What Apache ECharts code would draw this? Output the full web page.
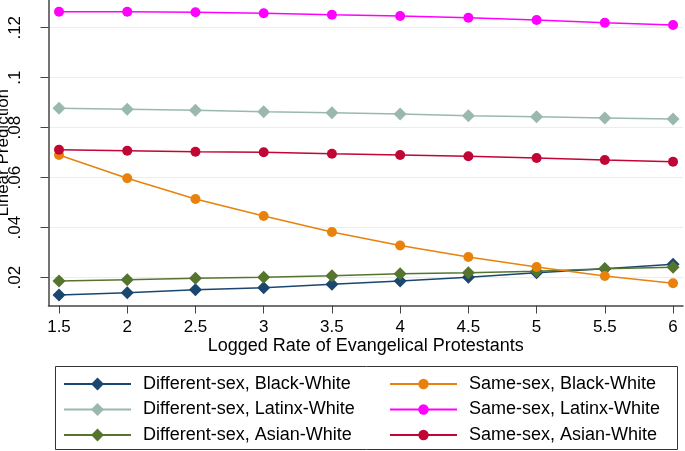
<!DOCTYPE html>
<html>
<head>
<meta charset="utf-8">
<script src="https://cdn.jsdelivr.net/npm/echarts@6/dist/echarts.min.js"></script>
<style>
  html, body { margin: 0; padding: 0; background: #fff; }
  #main { width: 685px; height: 451px; }
</style>
</head>
<body>
<div id="main"></div>
<script>
// 数据
const xVals = [1.5, 2, 2.5, 3, 3.5, 4, 4.5, 5, 5.5, 6];
const yTicks = [0.02, 0.04, 0.06, 0.08, 0.1, 0.12];
const diffBlack  = [0.0131, 0.0140, 0.0152, 0.0160, 0.0174, 0.0187, 0.0202, 0.0220, 0.0236, 0.0254];
const diffLatinx = [0.0878, 0.0874, 0.0870, 0.0864, 0.0860, 0.0855, 0.0848, 0.0844, 0.0839, 0.0835];
const diffAsian  = [0.0187, 0.0192, 0.0198, 0.0202, 0.0208, 0.0216, 0.0220, 0.0226, 0.0236, 0.0242];
const sameBlack  = [0.0691, 0.0598, 0.0515, 0.0447, 0.0383, 0.0329, 0.0283, 0.0243, 0.0207, 0.0178];
const sameLatinx = [0.1264, 0.1264, 0.1262, 0.1258, 0.1252, 0.1247, 0.1240, 0.1231, 0.1220, 0.1211];
const sameAsian  = [0.0712, 0.0708, 0.0704, 0.0702, 0.0696, 0.0691, 0.0686, 0.0679, 0.0671, 0.0664];

const font = "'Liberation Sans', Arial, sans-serif";
const axisColor = "#444";

const makeSeries = (name, arr, color, symbol, size) => ({
  type: "line",
  name: name,
  data: xVals.map((x, i) => [x, arr[i]]),
  symbol: symbol,
  symbolSize: size,
  animation: false,
  lineStyle: { color: color, width: 1.6 },
  itemStyle: { color: color },
});

const legendText = { fontSize: 18, color: "#000", lineHeight: 18, padding: [0, 0, 0, 7], fontFamily: font };

let myChart = echarts.init(document.getElementById("main"));
let option = {
  backgroundColor: "#fff",
  textStyle: { fontFamily: font },
  grid: {
    left: 48.5,
    right: 2,
    top: 0,
    bottom: 145.5,
    outerBoundsMode: "none",
  },
  xAxis: {
    type: "value",
    min: 1.423,
    max: 6.073,
    name: "Logged Rate of Evangelical Protestants",
    nameLocation: "middle",
    nameGap: 32,
    nameMoveOverlap: false,
    nameTextStyle: { color: "#000", fontSize: 18, fontFamily: font },
    axisLine: { show: true, lineStyle: { color: axisColor, width: 1.5 } },
    axisTick: { show: true, length: 8, customValues: xVals, lineStyle: { color: axisColor } },
    axisLabel: {
      customValues: xVals,
      color: "#000",
      fontSize: 17,
      margin: 13,
      fontFamily: font,
    },
    splitLine: { show: false },
  },
  yAxis: {
    type: "value",
    min: 0.00888,
    max: 0.1311,
    name: "Linear Prediction",
    nameLocation: "middle",
    nameGap: 37,
    nameMoveOverlap: false,
    nameTextStyle: { color: "#000", fontSize: 17, fontFamily: font },
    axisLine: { show: true, lineStyle: { color: axisColor, width: 1.5 } },
    axisTick: { show: true, length: 8, customValues: yTicks, lineStyle: { color: axisColor } },
    axisLabel: {
      customValues: yTicks,
      rotate: 90,
      color: "#000",
      fontSize: 17,
      margin: 25,
      fontFamily: font,
      formatter: (v) => String(+v.toFixed(2)).replace(/^0/, ""),
    },
    splitLine: { show: true, lineStyle: { color: "#e6eef0", width: 1.2 } },
  },
  legend: [
    {
      orient: "vertical",
      left: 63,
      top: 375,
      height: 76,
      padding: 0,
      itemWidth: 67,
      itemHeight: 16,
      itemGap: 7.5,
      textStyle: legendText,
      data: ["Different-sex, Black-White", "Different-sex, Latinx-White", "Different-sex, Asian-White"],
    },
    {
      orient: "vertical",
      left: 389,
      top: 375,
      height: 76,
      padding: 0,
      itemWidth: 67,
      itemHeight: 13,
      itemGap: 7.5,
      textStyle: legendText,
      data: ["Same-sex, Black-White", "Same-sex, Latinx-White", "Same-sex, Asian-White"],
    },
  ],
  // 图例外框
  graphic: [
    {
      type: "rect",
      shape: { x: 55.5, y: 366.5, width: 622, height: 83 },
      style: { fill: "none", stroke: "#333", lineWidth: 1 },
      silent: true,
    },
  ],
  series: [
    makeSeries("Different-sex, Black-White", diffBlack, "#1a476f", "diamond", 13),
    makeSeries("Different-sex, Latinx-White", diffLatinx, "#9ab8b0", "diamond", 13),
    makeSeries("Different-sex, Asian-White", diffAsian, "#55752f", "diamond", 13),
    makeSeries("Same-sex, Black-White", sameBlack, "#e8820c", "circle", 10),
    makeSeries("Same-sex, Latinx-White", sameLatinx, "#ff00ff", "circle", 10),
    makeSeries("Same-sex, Asian-White", sameAsian, "#c10534", "circle", 10),
  ],
};
myChart.setOption(option);
</script>
</body>
</html>
